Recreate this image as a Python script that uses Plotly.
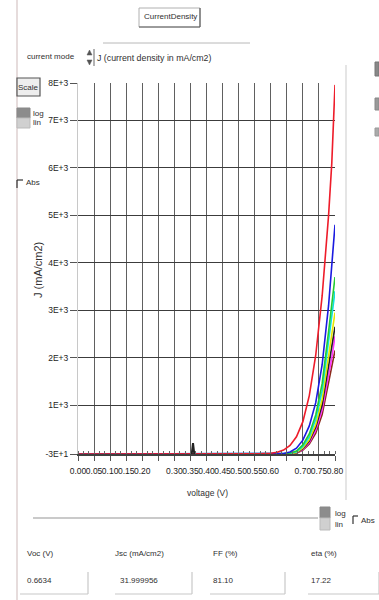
import plotly.graph_objects as go

W, H = 379, 600

# ---------------- data ----------------
voltage = [0.0, 0.10, 0.20, 0.30, 0.40, 0.50, 0.56, 0.60, 0.62, 0.64, 0.66,
           0.68, 0.70, 0.72, 0.74, 0.76, 0.78, 0.79, 0.80]
j_red     = [-32, -32, -32, -32, -32, -31, -28, -15, 5, 50, 150, 330, 650, 1200, 2050, 3300, 5000, 6100, 7750]
j_blue    = [-32, -32, -32, -32, -32, -32, -31, -30, -28, -20, 10, 90, 260, 560, 1050, 1850, 3100, 3900, 4800]
j_green   = [-32, -32, -32, -32, -32, -32, -32, -31, -30, -27, -12, 30, 160, 390, 790, 1450, 2550, 3100, 3700]
j_cyan    = [-32, -32, -32, -32, -32, -32, -32, -32, -31, -29, -18, 15, 125, 330, 700, 1300, 2300, 2850, 3400]
j_yellow  = [-32, -32, -32, -32, -32, -32, -32, -32, -32, -30, -24, 0, 95, 270, 590, 1120, 2000, 2450, 2950]
j_black   = [-32, -32, -32, -32, -32, -32, -32, -32, -32, -31, -26, -5, 80, 240, 530, 1000, 1800, 2200, 2650]
j_magenta = [-32, -32, -32, -32, -32, -32, -32, -32, -32, -31, -28, -10, 65, 210, 470, 900, 1600, 2000, 2450]
j_brown   = [-32, -32, -32, -32, -32, -32, -32, -32, -32, -32, -29, -15, 50, 180, 410, 800, 1450, 1800, 2150]

cursor_v = [0.354, 0.358, 0.362]
cursor_j = [-32, 200, -32]

x_tickvals = [0.00, 0.05, 0.10, 0.15, 0.20, 0.25, 0.30, 0.35, 0.40, 0.45, 0.50,
              0.55, 0.60, 0.65, 0.70, 0.75, 0.80]
x_ticktext = ["0.00", "0.05", "0.10", "0.15", "0.20", "", "0.30", "0.35", "0.40",
              "0.45", "0.50", "0.55", "0.60", "", "0.70", "0.75", "0.80"]
y_tickvals = [1000, 2000, 3000, 4000, 5000, 6000, 7000]
y_ticktext = ["1E+3", "2E+3", "3E+3", "4E+3", "5E+3", "6E+3", "7E+3"]
y_range = [-32, 7790]
y_endvals = [-32, 7790]
y_endtext = ["-3E+1", "8E+3"]

result_labels = ["Voc (V)", "Jsc (mA/cm2)", "FF (%)", "eta (%)"]
result_values = ["0.6634", "31.999956", "81.10", "17.22"]

# ---------------- figure ----------------
FONT = "Liberation Sans, Arial, sans-serif"
TXT = "#303030"
FS = 8

def px(x):
    return x / W

def py(y):
    return 1 - y / H

fig = go.Figure()

series = [
    (j_brown, "#8b2a1a"), (j_magenta, "#ff30ff"), (j_black, "#202020"),
    (j_yellow, "#e6e600"), (j_cyan, "#10e0e0"), (j_green, "#22cc33"),
    (j_blue, "#1a1ae0"), (j_red, "#ee1c2a"),
]
for j, c in series:
    fig.add_trace(go.Scatter(x=voltage, y=j, mode="lines",
                             line=dict(color=c, width=1.6), showlegend=False,
                             hoverinfo="skip"))

fig.add_trace(go.Scatter(x=cursor_v, y=cursor_j, mode="lines", yaxis="y2",
                         line=dict(color="#222", width=2), showlegend=False,
                         hoverinfo="skip"))

x_dom = [px(78), px(335)]
y_dom = [py(454), py(83)]

fig.update_layout(
    template="none",
    width=W, height=H,
    margin=dict(l=0, r=0, t=0, b=0, pad=0, autoexpand=False),
    paper_bgcolor="#ffffff", plot_bgcolor="#ffffff",
    font=dict(family=FONT, size=FS, color=TXT),
    xaxis=dict(domain=x_dom, range=[0, 0.80], tickmode="array",
               tickvals=x_tickvals, ticktext=x_ticktext, tickangle=0,
               automargin=False, ticklabelstandoff=3,
               showgrid=True, gridcolor="#606060", gridwidth=1.2,
               zeroline=False, showline=True, linecolor="#404040", linewidth=1.5,
               ticks="outside", ticklen=5, tickcolor="#555",
               tickfont=dict(family=FONT, size=8.5, color="#222"),
               minor=dict(ticks="inside", tick0=0, dtick=0.05 / 3, ticklen=3,
                          tickcolor="#666", showgrid=False),
               fixedrange=True),
    yaxis=dict(domain=y_dom, range=y_range, tickmode="array",
               tickvals=y_tickvals, ticktext=y_ticktext, automargin=False,
               showgrid=True, gridcolor="#3c3c3c", gridwidth=1.4,
               zeroline=False, showline=True, linecolor="#c8c8c8", linewidth=1,
               ticks="outside", ticklen=7, tickcolor="#555",
               tickfont=dict(family=FONT, size=8.5, color="#222"),
               fixedrange=True),
    yaxis2=dict(domain=y_dom, range=y_range, overlaying="y", side="left",
                tickmode="array", tickvals=y_endvals, ticktext=y_endtext,
                automargin=False,
                showgrid=True, gridcolor="#c8c8c8", gridwidth=1,
                zeroline=False, showline=False,
                ticks="outside", ticklen=7, tickcolor="#555",
                tickfont=dict(family=FONT, size=8.5, color="#222"),
                fixedrange=True),
)

ann = []

def text(x, y, s, anchor="left", size=FS, angle=0):
    ann.append(dict(x=px(x), y=py(y), xref="paper", yref="paper", text=s,
                    showarrow=False, xanchor=anchor, yanchor="middle",
                    textangle=angle, borderpad=0,
                    font=dict(family=FONT, size=size, color=TXT)))

text(170, 17, "CurrentDensity", "center")
text(26, 57, "current mode")
text(96, 58, "J (current density in mA/cm2)", size=8.8)
text(28.5, 87, "Scale", "center")
text(32, 113, "log")
text(32, 123, "lin")
text(25, 183, "Abs")
text(38, 270, "J (mA/cm2)", "center", 11, -90)
text(207, 493, "voltage (V)", "center", 8.5)
text(334, 513, "log")
text(334, 524, "lin")
text(360, 520, "Abs")

label_x = [26, 114, 212, 310]
for lx, lab, val in zip(label_x, result_labels, result_values):
    text(lx, 553, lab)
    text(lx + (5 if lab.startswith("Jsc") else 0), 580, val)

fig.update_layout(annotations=ann)

shapes = []

def rect(x0, y0, x1, y1, line="#999", fill=None, lw=1):
    shapes.append(dict(type="rect", xref="paper", yref="paper",
                       x0=px(x0), x1=px(x1), y0=py(y1), y1=py(y0),
                       line=dict(color=line, width=lw),
                       fillcolor=fill if fill else "rgba(0,0,0,0)"))

def line(x0, y0, x1, y1, color="#bbb", lw=1):
    shapes.append(dict(type="line", xref="paper", yref="paper",
                       x0=px(x0), x1=px(x1), y0=py(y0), y1=py(y1),
                       line=dict(color=color, width=lw)))

def tri(pts, color="#555"):
    p = "M " + " L ".join(f"{px(a)} {py(b)}" for a, b in pts) + " Z"
    shapes.append(dict(type="path", xref="paper", yref="paper", path=p,
                       fillcolor=color, line=dict(color=color, width=0.5)))

# left window border
line(17, 0, 17, 600, "#e6dcdc", 2)
# title box
rect(139, 8, 200, 27, "#b0b0b0")
line(200, 8, 200, 27, "#606060", 1.2)
line(139, 27, 200, 27, "#606060", 1.2)
# combobox
line(103, 43, 250, 43, "#b8b8b8", 1)
line(94, 49, 94, 66, "#666", 1)
tri([(87, 55), (92, 55), (89.5, 50)])
tri([(87, 60), (92, 60), (89.5, 65)])
# scale button
rect(17, 78, 40, 96, "#555", "#eeeeee", 1.2)
# log/lin toggle (left)
rect(17, 108, 30, 118, "#888", "#8c8c8c")
rect(17, 118, 30, 128, "#bbb", "#d0d0d0")
# Abs checkbox (left)
line(17, 180, 23, 180, "#333", 1.2)
line(17, 180, 17, 188, "#333", 1.2)
# right panel separator
line(346, 65, 346, 500, "#dcdcdc", 1.5)
# right edge widgets
rect(375, 62, 379, 76, "#777", "#888")
rect(375, 98, 379, 110, "#888", "#999")
rect(375, 128, 379, 136, "#999", "#aaa")
# bottom separator
line(33, 518, 318, 518, "#b8b8b8", 1.5)
# bottom log/lin toggle
rect(320, 507, 330, 518, "#888", "#8c8c8c")
rect(320, 518, 330, 530, "#bbb", "#d0d0d0")
# bottom Abs checkbox
line(353, 516, 358, 516, "#333", 1.2)
line(353, 516, 353, 524, "#333", 1.2)
# result boxes
for x0, x1 in [(20, 88), (115, 192), (210, 285), (308, 379)]:
    line(x0, 594, x1, 594, "#c8c8c8", 1.2)
    line(x1, 572, x1, 594, "#c8c8c8", 1.2)

fig.update_layout(shapes=shapes)

fig.write_html("out.html")
